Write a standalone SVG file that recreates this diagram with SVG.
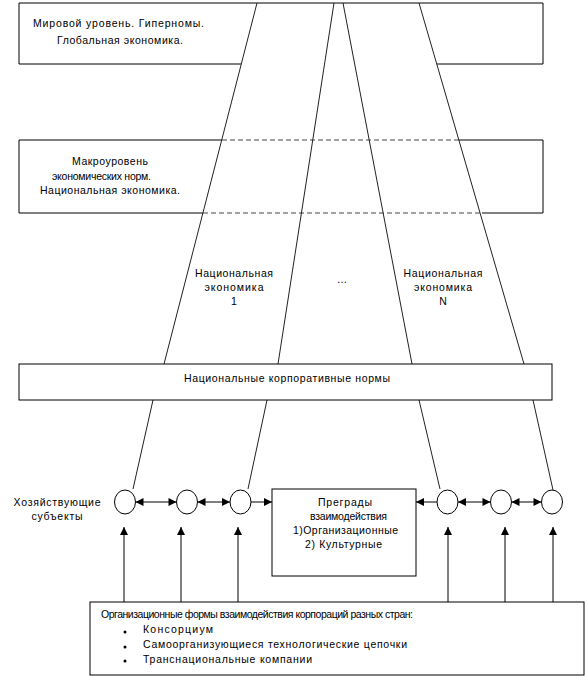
<svg xmlns="http://www.w3.org/2000/svg" width="585" height="676" viewBox="0 0 585 676">
<style>
.t{font-family:"Liberation Sans",Arial,sans-serif;font-size:10.5px;fill:#000}
.m{text-anchor:middle}
.b{fill:none;stroke:#000;stroke-width:1}
.w{fill:#fff;stroke:#000;stroke-width:1}
.d{fill:none;stroke:#444;stroke-width:1;stroke-dasharray:5 3}
.l{fill:none;stroke:#222;stroke-width:1}
.a{fill:none;stroke:#000;stroke-width:1;marker-end:url(#ah)}
.aa{fill:none;stroke:#000;stroke-width:1;marker-start:url(#ah);marker-end:url(#ah)}
</style>
<defs>
<marker id="ah" viewBox="0 0 10 10" refX="10" refY="5" markerUnits="userSpaceOnUse" markerWidth="9" markerHeight="8" orient="auto-start-reverse">
<path d="M0,0 L10,5 L0,10 z" fill="#000"/>
</marker>
</defs>
<rect width="585" height="676" fill="#fff"/>

<g id="world-level">
<path class="b" d="M241,64 H19 V3 H543 V64 H437"/>
<text class="t m" x="118.5" y="27" textLength="171" lengthAdjust="spacing">Мировой уровень. Гиперномы.</text>
<text class="t m" x="120" y="44" textLength="126" lengthAdjust="spacing">Глобальная экономика.</text>
</g>

<g id="macro-level">
<path class="b" d="M222,140 H19 V213 H203"/>
<path class="b" d="M459,140 H543 V213 H482"/>
<path class="d" d="M222,140 H459"/>
<path class="d" d="M203,213 H482"/>
<text class="t m" x="110" y="165" textLength="76" lengthAdjust="spacing">Макроуровень</text>
<text class="t m" x="101.5" y="179.5" textLength="99" lengthAdjust="spacing">экономических норм.</text>
<text class="t m" x="110" y="194" textLength="140" lengthAdjust="spacing">Национальная экономика.</text>
</g>

<g id="national-economy-1">
<text class="t m" x="234" y="277" textLength="78" lengthAdjust="spacing">Национальная</text>
<text class="t m" x="234" y="291" textLength="59" lengthAdjust="spacing">экономика</text>
<text class="t m" x="234" y="305">1</text>
</g>
<g id="ellipsis">
<text class="t m" x="342" y="283">…</text>
</g>
<g id="national-economy-n">
<text class="t m" x="443" y="277" textLength="79" lengthAdjust="spacing">Национальная</text>
<text class="t m" x="443" y="291" textLength="58" lengthAdjust="spacing">экономика</text>
<text class="t m" x="443" y="305">N</text>
</g>

<g id="connectors">
<line class="l" x1="257" y1="3" x2="164" y2="364"/>
<line class="l" x1="334" y1="3" x2="278" y2="364"/>
<line class="l" x1="343" y1="3" x2="412" y2="364"/>
<line class="l" x1="419" y1="3" x2="524" y2="364"/>
<line class="l" x1="153" y1="400" x2="133" y2="489"/>
<line class="l" x1="267" y1="400" x2="248" y2="489"/>
<line class="l" x1="419" y1="400" x2="440" y2="489"/>
<line class="l" x1="533" y1="400" x2="553" y2="490"/>
<line class="aa" x1="135.5" y1="502" x2="176.5" y2="502"/>
<line class="aa" x1="197.5" y1="502" x2="230" y2="502"/>
<line class="a" x1="251" y1="502" x2="272" y2="502"/>
<line class="a" x1="437" y1="502" x2="416" y2="502"/>
<line class="aa" x1="458" y1="502" x2="490.5" y2="502"/>
<line class="aa" x1="511.5" y1="502" x2="541.5" y2="502"/>
<line class="a" x1="124" y1="602" x2="124" y2="527"/>
<line class="a" x1="181" y1="602" x2="181" y2="527"/>
<line class="a" x1="238" y1="602" x2="238" y2="527"/>
<line class="a" x1="448" y1="602" x2="448" y2="527"/>
<line class="a" x1="505" y1="602" x2="505" y2="527"/>
<line class="a" x1="553" y1="602" x2="553" y2="527"/>
</g>

<g id="corporate-norms">
<rect class="w" x="19" y="364" width="533" height="36"/>
<text class="t m" x="287" y="382" textLength="206" lengthAdjust="spacing">Национальные корпоративные нормы</text>
</g>

<g id="subjects-label">
<text class="t m" x="57" y="506" textLength="87" lengthAdjust="spacing">Хозяйствующие</text>
<text class="t m" x="57" y="520" textLength="51" lengthAdjust="spacing">субъекты</text>
</g>

<g id="subject-1"><ellipse class="w" cx="125" cy="502" rx="10.5" ry="12"/></g>
<g id="subject-2"><ellipse class="w" cx="187" cy="502" rx="10.5" ry="12"/></g>
<g id="subject-3"><ellipse class="w" cx="240.5" cy="502" rx="10.5" ry="12"/></g>
<g id="subject-4"><ellipse class="w" cx="447.5" cy="502" rx="10.5" ry="12"/></g>
<g id="subject-5"><ellipse class="w" cx="501" cy="502" rx="10.5" ry="12"/></g>
<g id="subject-6"><ellipse class="w" cx="552" cy="502" rx="10.5" ry="12"/></g>

<g id="barriers">
<rect class="w" x="272" y="489" width="144" height="87"/>
<text class="t m" x="345" y="506" textLength="54" lengthAdjust="spacing">Преграды</text>
<text class="t m" x="348.5" y="520" textLength="77" lengthAdjust="spacing">взаимодействия</text>
<text class="t m" x="345.5" y="534" textLength="105" lengthAdjust="spacing">1)Организационные</text>
<text class="t m" x="343.5" y="548" textLength="77" lengthAdjust="spacing">2) Культурные</text>
</g>

<g id="organizational-forms">
<rect class="w" x="90" y="602" width="494" height="73"/>
<text class="t" x="101" y="618" textLength="312" lengthAdjust="spacing">Организационные формы взаимодействия корпораций разных стран:</text>
<circle cx="125" cy="632" r="1.5" fill="#000"/>
<circle cx="125" cy="647" r="1.5" fill="#000"/>
<circle cx="125" cy="661" r="1.5" fill="#000"/>
<text class="t" x="143" y="633" textLength="70" lengthAdjust="spacing">Консорциум</text>
<text class="t" x="143" y="648" textLength="264" lengthAdjust="spacing">Самоорганизующиеся технологические цепочки</text>
<text class="t" x="143" y="663" textLength="169" lengthAdjust="spacing">Транснациональные компании</text>
</g>
</svg>
